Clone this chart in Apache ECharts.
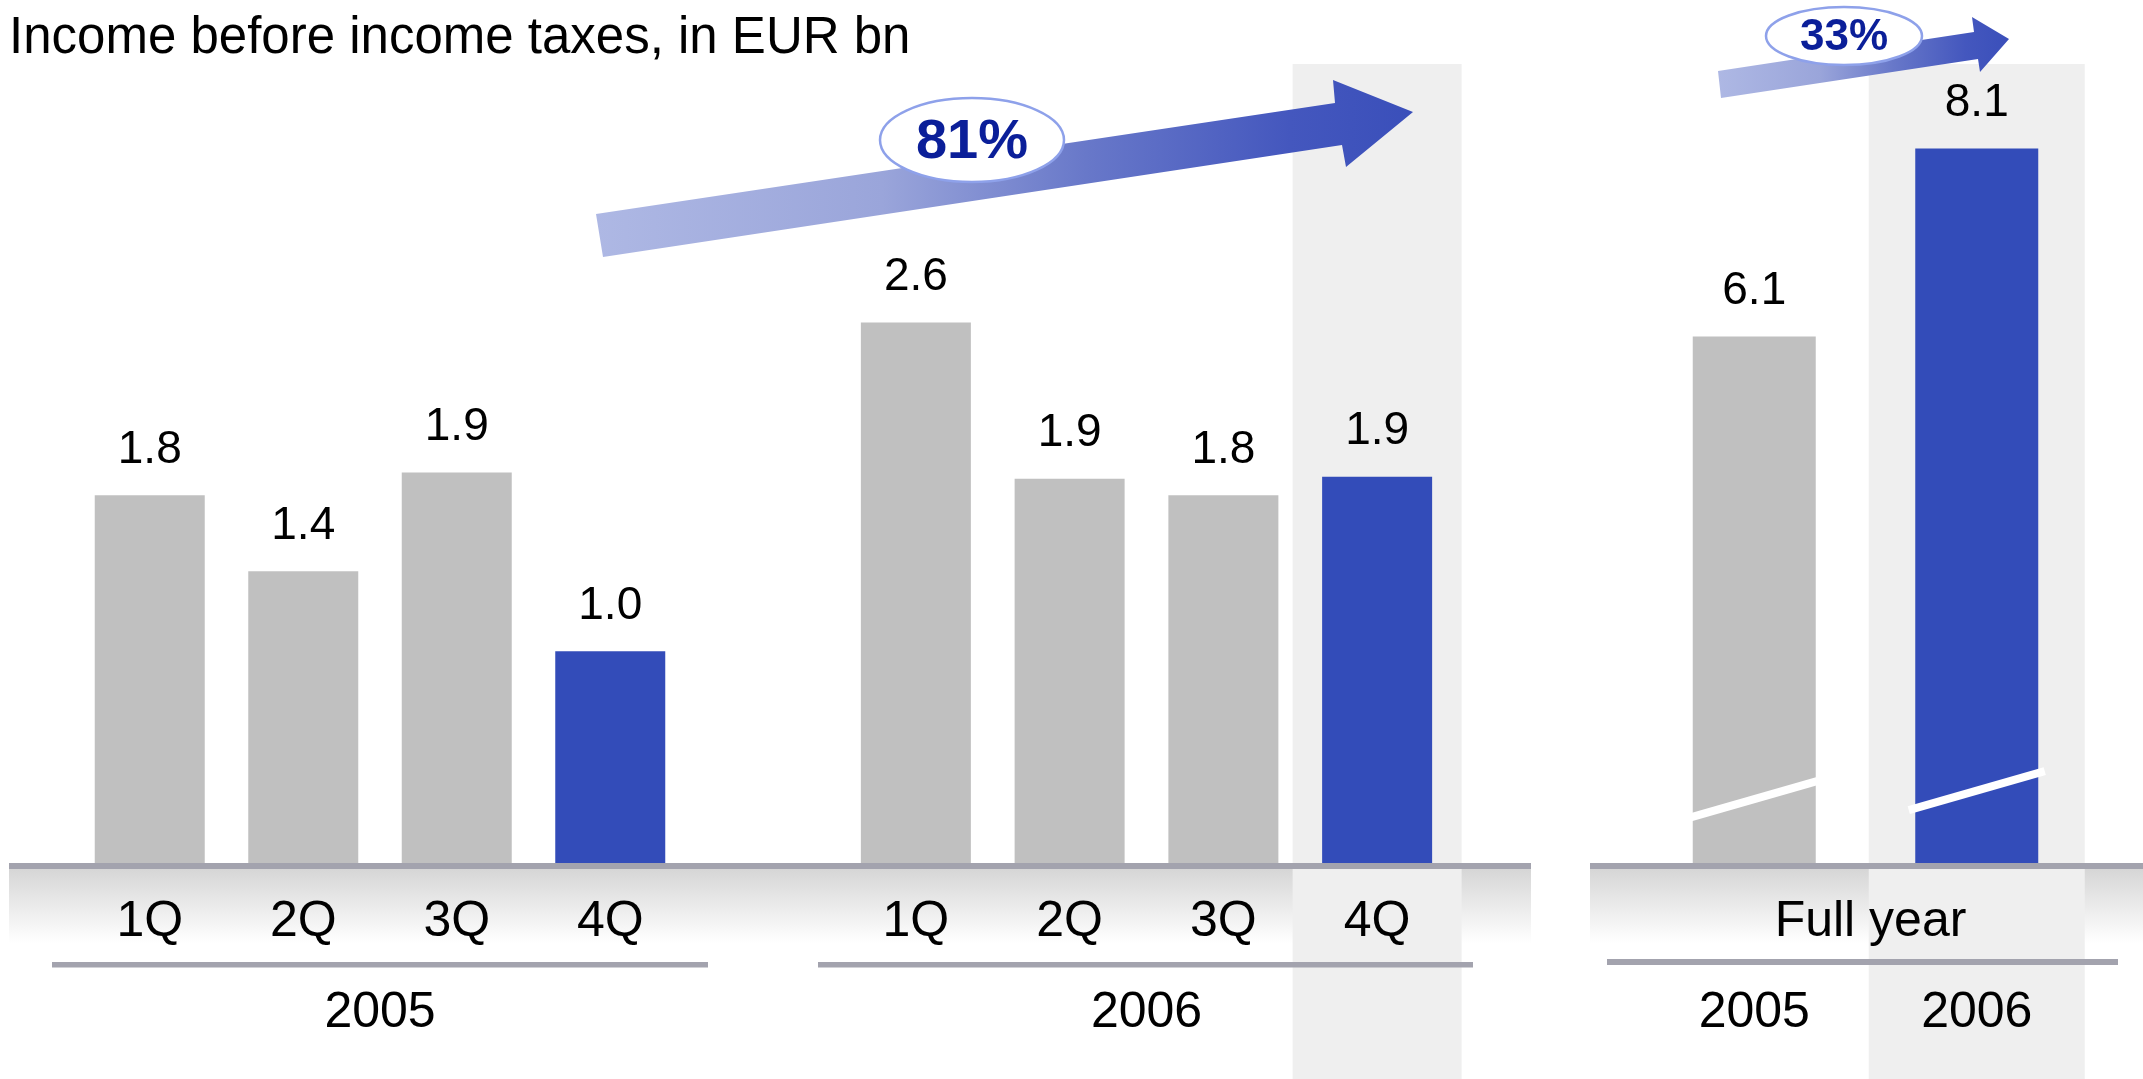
<!DOCTYPE html>
<html>
<head>
<meta charset="utf-8">
<script src="https://cdn.jsdelivr.net/npm/echarts@6/dist/echarts.min.js"></script>
<style>
  html, body { margin: 0; padding: 0; background: #fff; }
  #income { width: 2143px; height: 1079px; }
</style>
</head>
<body>
<div id="income"></div>
<script>
var quarters = ['1Q', '2Q', '3Q', '4Q'];
var income2005 = [1.79, 1.42, 1.90, 1.03];
var income2006 = [2.63, 1.87, 1.79, 1.88];
var fullYearCats = ['2005', '2006'];
var fullYear = [6.1, 8.1];
var growthQuarter = '81%';
var growthYear = '33%';
// where the axis-break marks sit on the full year bars
var breakAt = [1.18, 1.27];

var GRAY = '#c0c0c0';
var BLUE = '#334cb9';
var LINE = '#a3a3ae';
var FONT = 'Liberation Sans, Arial, sans-serif';

function barData(values) {
  // last bar of each block is the highlighted one
  return values.map(function (v, i) {
    return { value: v, itemStyle: { color: i === values.length - 1 ? BLUE : GRAY } };
  });
}

function hiddenY(grid, min, max) {
  return { type: 'value', gridIndex: grid, min: min, max: max, show: false, splitLine: { show: false } };
}

function catAxis(grid, data, labelMargin, name, nameGap) {
  return {
    type: 'category',
    gridIndex: grid,
    data: data,
    axisLine: { show: false },
    axisTick: { show: false },
    axisLabel: { fontSize: 50, margin: labelMargin, color: '#000', fontFamily: FONT },
    name: name,
    nameLocation: 'middle',
    nameGap: nameGap,
    nameMoveOverlap: false,
    nameTextStyle: { fontSize: 50, color: '#000', fontFamily: FONT }
  };
}

function barSeries(grid, values, width) {
  return {
    type: 'bar',
    xAxisIndex: grid,
    yAxisIndex: grid,
    barWidth: width,
    data: barData(values),
    label: {
      show: true,
      position: 'top',
      distance: 22,
      fontSize: 46,
      color: '#000',
      fontFamily: FONT,
      formatter: function (p) { return p.value.toFixed(1); }
    }
  };
}

function arrowFill() {
  return new echarts.graphic.LinearGradient(0, 0, 1, 0, [
    { offset: 0, color: '#aeb8e4' },
    { offset: 0.35, color: '#9aa5da' },
    { offset: 0.6, color: '#6878c9' },
    { offset: 0.85, color: '#4457be' },
    { offset: 1, color: '#3a4fba' }
  ]);
}

function draw_income() {
  var dom = document.getElementById('income');
  var myChart = echarts.init(dom, null, { renderer: 'canvas', useDirtyRect: false });
  var option;

  option = {
    animation: false,
    backgroundColor: '#fff',
    title: {
      text: 'Income before income taxes, in EUR bn',
      left: 4,
      top: 8,
      textStyle: { fontSize: 51, fontWeight: 'normal', color: '#000', fontFamily: FONT }
    },
    tooltip: { show: false },
    grid: [
      { left: 73, width: 614, top: 41, bottom: 216, outerBoundsMode: 'none' },
      { left: 839, width: 615, top: 41, bottom: 216, outerBoundsMode: 'none' },
      { left: 1643, width: 445, top: 64, bottom: 216, outerBoundsMode: 'none' }
    ],
    xAxis: [
      catAxis(0, quarters, 34, '2005', 125),
      catAxis(1, quarters, 34, '2006', 125),
      catAxis(2, fullYearCats, 125, '', 34)
    ],
    yAxis: [
      hiddenY(0, 0, 4),
      hiddenY(1, 0, 4),
      hiddenY(2, 0.5, 9)
    ],
    series: [
      barSeries(0, income2005, 110),
      barSeries(1, income2006, 110),
      barSeries(2, fullYear, 123)
    ]
  };

  if (option && typeof option === 'object') {
    myChart.setOption(option);
  }

  // decorations placed from the chart's own coordinates
  var q4 = myChart.convertToPixel({ gridIndex: 1 }, [3, 0]);
  var fy0 = myChart.convertToPixel({ gridIndex: 2 }, [0, 0.5]);
  var fy = myChart.convertToPixel({ gridIndex: 2 }, [1, 0.5]);
  var graphics = [
    // shaded bands under the axis
    { type: 'rect', z: -20, shape: { x: 9, y: 869, width: 1522, height: 74 },
      style: { fill: new echarts.graphic.LinearGradient(0, 0, 0, 1, [{ offset: 0, color: '#d6d6d6' }, { offset: 1, color: '#ffffff' }]) } },
    { type: 'rect', z: -20, shape: { x: 1590, y: 869, width: 553, height: 74 },
      style: { fill: new echarts.graphic.LinearGradient(0, 0, 0, 1, [{ offset: 0, color: '#d6d6d6' }, { offset: 1, color: '#ffffff' }]) } },
    // highlight columns
    { type: 'rect', z: -10, shape: { x: q4[0] - 84.5, y: 64, width: 169, height: 1015 }, style: { fill: '#efefef' } },
    { type: 'rect', z: -10, shape: { x: fy[0] - 108, y: 64, width: 216, height: 1015 }, style: { fill: '#efefef' } },
    // base lines
    { type: 'rect', z: 5, shape: { x: 9, y: 863, width: 1522, height: 6 }, style: { fill: LINE } },
    { type: 'rect', z: 5, shape: { x: 1590, y: 863, width: 553, height: 6 }, style: { fill: LINE } },
    // group underlines
    { type: 'rect', z: 5, shape: { x: 52, y: 962, width: 656, height: 5.5 }, style: { fill: LINE } },
    { type: 'rect', z: 5, shape: { x: 818, y: 962, width: 655, height: 5.5 }, style: { fill: LINE } },
    { type: 'rect', z: 5, shape: { x: 1607, y: 959, width: 511, height: 6 }, style: { fill: LINE } },
    // full year caption
    { type: 'text', z: 6, x: (fy0[0] + fy[0]) / 2 + 5, y: 897,
      style: { text: 'Full year', fontSize: 50, fontFamily: FONT, fill: '#000', align: 'center', verticalAlign: 'top' } },
    // growth arrows
    { type: 'polygon', z: 10,
      shape: { points: [[596, 214], [1335, 103], [1333, 80], [1413, 112], [1346, 167], [1342, 145], [603, 257]] },
      style: { fill: arrowFill() } },
    { type: 'polygon', z: 10,
      shape: { points: [[1718, 71], [1974, 32], [1972, 17], [2009, 39], [1980, 72], [1978, 59], [1721, 98]] },
      style: { fill: arrowFill() } },
    { type: 'ellipse', z: 11, shape: { cx: 972, cy: 140, rx: 92, ry: 42 },
      style: { fill: '#fff', stroke: '#8ea1ea', lineWidth: 2.5 } },
    { type: 'ellipse', z: 11, shape: { cx: 1844, cy: 36, rx: 78, ry: 29 },
      style: { fill: '#fff', stroke: '#8ea1ea', lineWidth: 2.5 } },
    { type: 'text', z: 12, x: 972, y: 143,
      style: { text: growthQuarter, fontSize: 56, fontWeight: 'bold', fontFamily: FONT, fill: '#0b1f99', align: 'center', verticalAlign: 'middle' } },
    { type: 'text', z: 12, x: 1844, y: 38,
      style: { text: growthYear, fontSize: 44, fontWeight: 'bold', fontFamily: FONT, fill: '#0b1f99', align: 'center', verticalAlign: 'middle' } }
  ];
  breakAt.forEach(function (v, i) {
    var p = myChart.convertToPixel({ gridIndex: 2 }, [i, v]);
    graphics.push({ type: 'line', z: 10,
      shape: { x1: p[0] - 68, y1: p[1] + 19.5, x2: p[0] + 68, y2: p[1] - 19.5 },
      style: { stroke: '#fff', lineWidth: 8 } });
  });
  myChart.setOption({ graphic: graphics });

  window.addEventListener('resize', myChart.resize);
}

draw_income();
</script>
</body>
</html>
